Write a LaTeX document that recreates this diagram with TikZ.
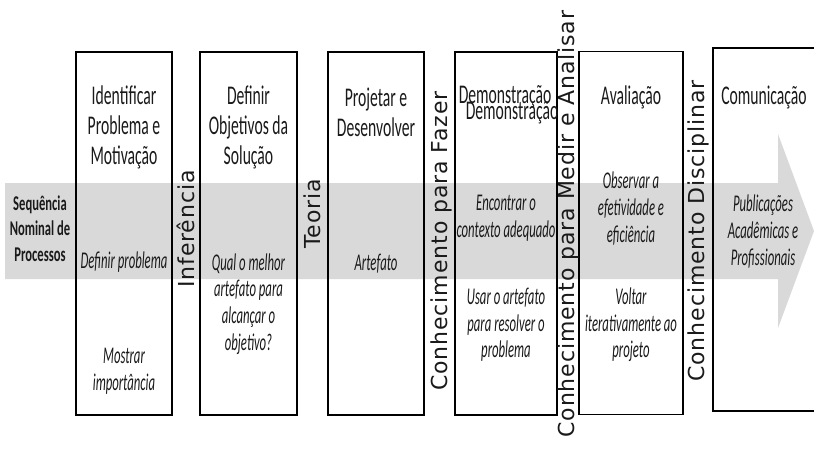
\documentclass[tikz,border=0pt]{standalone}
\usepackage{fontspec}
\newfontfamily\titlefont[FakeStretch=0.58]{Carlito}
\newfontfamily\itfont[FakeStretch=0.53]{Carlito}
\newfontfamily\labfont[FakeStretch=0.6]{Carlito}
\newfontfamily\vfont[LetterSpace=4]{DejaVu Sans}
\definecolor{bandgray}{HTML}{D9D9D9}
\definecolor{inkgray}{HTML}{1A1A1A}
\begin{document}
\begin{tikzpicture}[x=1pt,y=-1pt,
  stagebox/.style={draw=black,line width=1.8pt,inner sep=0pt,minimum height=363pt},
  ttl/.style={font=\titlefont\fontsize{27}{30}\selectfont,align=center,inner sep=0pt,text=inkgray},
  itx/.style={font=\itfont\itshape\fontsize{24}{26.7}\selectfont,align=center,inner sep=0pt,text=inkgray},
  vlab/.style={font=\vfont\fontsize{22}{24}\selectfont,rotate=90,inner sep=0pt,text=inkgray},
  seqlab/.style={font=\labfont\bfseries\fontsize{21}{25.5}\selectfont,align=center,inner sep=0pt,text=inkgray}]
\useasboundingbox (0,0) rectangle (814,455);
\fill[white] (0,0) rectangle (814,455);
% band arrow
\fill[bandgray] (5,183) -- (778,183) -- (778,134) -- (814,231) -- (778,328) -- (778,279) -- (5,279) -- cycle;
% boxes
\node[stagebox,minimum width=96pt] (b1) at (124,233.5) {};
\node[stagebox,minimum width=97pt] (b2) at (248.5,233.5) {};
\node[stagebox,minimum width=96pt] (b3) at (376,233.5) {};
\node[stagebox,minimum width=102pt] (b4) at (506,233.5) {};
\node[stagebox,minimum width=104pt] (b5) at (631,233) {};
\coordinate (b6tr) at (814,48);
\coordinate (b6tl) at (713,48);
\coordinate (b6bl) at (713,411);
\coordinate (b6br) at (814,411);
\draw[line width=1.8pt] (b6tr) -- (b6tl) -- (b6bl) -- (b6br);
% left label
\node[seqlab] (seq) at (40,228.5) {Sequência\\Nominal de\\Processos};
% titles
\node[ttl] (t1) at (124,127) {Identificar\\Problema e\\Motivação};
\node[ttl] (t2) at (248.5,127) {Definir\\Objetivos da\\Solução};
\node[ttl] (t3) at (376,112) {Projetar e\\Desenvolver};
\node[ttl] (t4a) at (505,97) {Demonstração};
\node[ttl] (t4b) at (512,113) {Demonstração};
\node[ttl] (t5) at (631,97) {Avaliação};
\node[ttl] (t6) at (764,97) {Comunicação};
% italic texts
\node[itx] (i1a) at (124,262) {Definir problema};
\node[itx] (i1b) at (124,371) {Mostrar\\importância};
\node[itx] (i2) at (248.5,304) {Qual o melhor\\artefato para\\alcançar o\\objetivo?};
\node[itx] (i3) at (376,264) {Artefato};
\node[itx] (i4a) at (506,218.5) {Encontrar o\\contexto adequado};
\node[itx] (i4b) at (506,325) {Usar o artefato\\para resolver o\\problema};
\node[itx] (i5a) at (631,208.5) {Observar a\\efetividade e\\eficiência};
\node[itx] (i5b) at (631,325) {Voltar\\iterativamente ao\\projeto};
\node[itx] (i6) at (763,231.5) {Publicações\\Acadêmicas e\\Profissionais};
% vertical labels
\node[vlab] (v1) at (186,229) {Inferência};
\node[vlab] (v2) at (312,214) {Teoria};
\node[vlab] (v3) at (441,241) {Conhecimento para Fazer};
\node[vlab] (v4) at (568,224) {Conhecimento para Medir e Analisar};
\node[vlab] (v5) at (698,231) {Conhecimento Disciplinar};
\end{tikzpicture}
\end{document}
